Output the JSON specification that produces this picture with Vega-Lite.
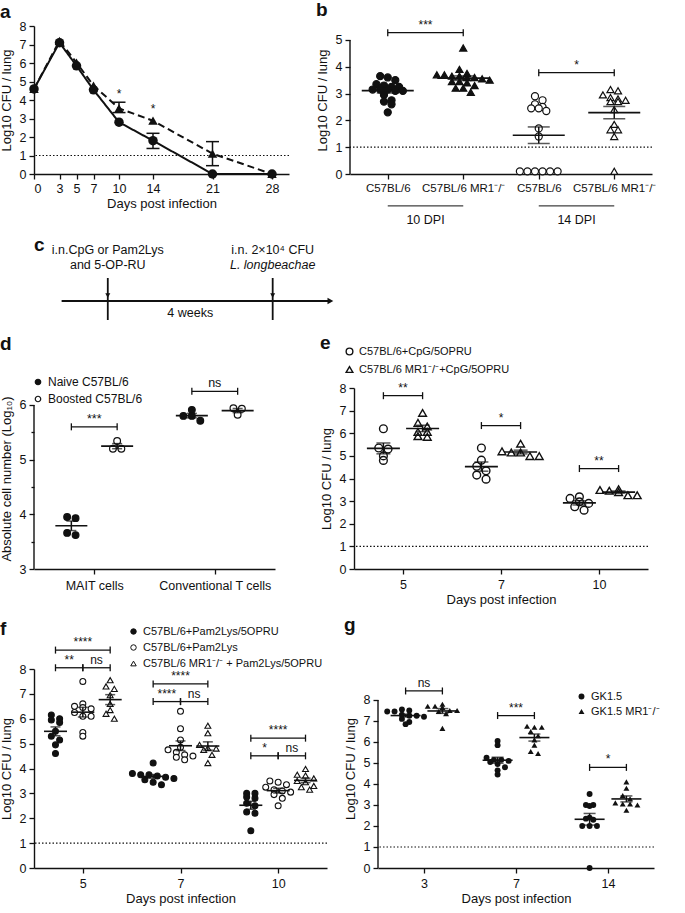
{
"$schema": "https://vega.github.io/schema/vega-lite/v6.json",
"background": "white",
"padding": {"left": 0, "top": 0, "right": 0, "bottom": 0},
"config": {
 "font": "Liberation Sans",
 "view": {"stroke": null},
 "axis": {"grid": false, "domainColor": "#111", "tickColor": "#111", "labelColor": "#111", "titleColor": "#111", "labelFontSize": 12.5, "titleFontSize": 13, "titleFontWeight": "normal", "tickSize": 5, "domainWidth": 1.4, "tickWidth": 1.3, "labelPadding": 3, "labelOverlap": false},
 "axisX": {"titlePadding": 3},
 "axisY": {"titlePadding": 6},
 "legend": {"labelFontSize": 11, "labelColor": "#111", "labelLimit": 300},
 "title": {"fontSize": 19, "fontWeight": "bold", "anchor": "start", "color": "#111"}
},
"datasets": {
 "a": [
  {"day":0,"g":"C57BL/6","v":4.6},{"day":3,"g":"C57BL/6","v":7.1},{"day":5,"g":"C57BL/6","v":5.85},{"day":7,"g":"C57BL/6","v":4.55},{"day":10,"g":"C57BL/6","v":2.8},{"day":14,"g":"C57BL/6","v":1.8,"lo":1.38,"hi":2.2},{"day":21,"g":"C57BL/6","v":0},{"day":28,"g":"C57BL/6","v":0},
  {"day":0,"g":"C57BL/6 MR1⁻/⁻","v":4.6},{"day":3,"g":"C57BL/6 MR1⁻/⁻","v":7.2},{"day":5,"g":"C57BL/6 MR1⁻/⁻","v":6.02},{"day":7,"g":"C57BL/6 MR1⁻/⁻","v":4.78},{"day":10,"g":"C57BL/6 MR1⁻/⁻","v":3.55,"lo":3.32,"hi":3.88},{"day":14,"g":"C57BL/6 MR1⁻/⁻","v":2.88},{"day":21,"g":"C57BL/6 MR1⁻/⁻","v":1.1,"lo":0.45,"hi":1.75},{"day":28,"g":"C57BL/6 MR1⁻/⁻","v":0}
 ],
 "b": [
  {"dpi":10,"grp":"C57BL/6","v":3.65},{"dpi":10,"grp":"C57BL/6","v":3.6},{"dpi":10,"grp":"C57BL/6","v":3.5},{"dpi":10,"grp":"C57BL/6","v":3.35},{"dpi":10,"grp":"C57BL/6","v":3.3},{"dpi":10,"grp":"C57BL/6","v":3.25},{"dpi":10,"grp":"C57BL/6","v":3.25},{"dpi":10,"grp":"C57BL/6","v":3.15},{"dpi":10,"grp":"C57BL/6","v":3.15},{"dpi":10,"grp":"C57BL/6","v":3.15},{"dpi":10,"grp":"C57BL/6","v":3.1},{"dpi":10,"grp":"C57BL/6","v":3.1},{"dpi":10,"grp":"C57BL/6","v":2.95},{"dpi":10,"grp":"C57BL/6","v":2.75},{"dpi":10,"grp":"C57BL/6","v":2.7},{"dpi":10,"grp":"C57BL/6","v":2.6},{"dpi":10,"grp":"C57BL/6","v":2.3},
  {"dpi":10,"grp":"C57BL/6 MR1⁻/⁻","v":4.7},{"dpi":10,"grp":"C57BL/6 MR1⁻/⁻","v":3.9},{"dpi":10,"grp":"C57BL/6 MR1⁻/⁻","v":3.75},{"dpi":10,"grp":"C57BL/6 MR1⁻/⁻","v":3.7},{"dpi":10,"grp":"C57BL/6 MR1⁻/⁻","v":3.7},{"dpi":10,"grp":"C57BL/6 MR1⁻/⁻","v":3.65},{"dpi":10,"grp":"C57BL/6 MR1⁻/⁻","v":3.65},{"dpi":10,"grp":"C57BL/6 MR1⁻/⁻","v":3.6},{"dpi":10,"grp":"C57BL/6 MR1⁻/⁻","v":3.6},{"dpi":10,"grp":"C57BL/6 MR1⁻/⁻","v":3.55},{"dpi":10,"grp":"C57BL/6 MR1⁻/⁻","v":3.5},{"dpi":10,"grp":"C57BL/6 MR1⁻/⁻","v":3.45},{"dpi":10,"grp":"C57BL/6 MR1⁻/⁻","v":3.45},{"dpi":10,"grp":"C57BL/6 MR1⁻/⁻","v":3.4},{"dpi":10,"grp":"C57BL/6 MR1⁻/⁻","v":3.3},{"dpi":10,"grp":"C57BL/6 MR1⁻/⁻","v":3.2},{"dpi":10,"grp":"C57BL/6 MR1⁻/⁻","v":3.2},{"dpi":10,"grp":"C57BL/6 MR1⁻/⁻","v":3.05},
  {"dpi":14,"grp":"C57BL/6","v":2.9},{"dpi":14,"grp":"C57BL/6","v":2.75},{"dpi":14,"grp":"C57BL/6","v":2.6},{"dpi":14,"grp":"C57BL/6","v":2.5},{"dpi":14,"grp":"C57BL/6","v":2.45},{"dpi":14,"grp":"C57BL/6","v":2.45},{"dpi":14,"grp":"C57BL/6","v":2.35},{"dpi":14,"grp":"C57BL/6","v":1.7},{"dpi":14,"grp":"C57BL/6","v":1.4},{"dpi":14,"grp":"C57BL/6","v":0.1},{"dpi":14,"grp":"C57BL/6","v":0.1},{"dpi":14,"grp":"C57BL/6","v":0.1},{"dpi":14,"grp":"C57BL/6","v":0.1},{"dpi":14,"grp":"C57BL/6","v":0.1},{"dpi":14,"grp":"C57BL/6","v":0.1},
  {"dpi":14,"grp":"C57BL/6 MR1⁻/⁻","v":3.15},{"dpi":14,"grp":"C57BL/6 MR1⁻/⁻","v":3.1},{"dpi":14,"grp":"C57BL/6 MR1⁻/⁻","v":2.95},{"dpi":14,"grp":"C57BL/6 MR1⁻/⁻","v":2.85},{"dpi":14,"grp":"C57BL/6 MR1⁻/⁻","v":2.8},{"dpi":14,"grp":"C57BL/6 MR1⁻/⁻","v":2.75},{"dpi":14,"grp":"C57BL/6 MR1⁻/⁻","v":2.7},{"dpi":14,"grp":"C57BL/6 MR1⁻/⁻","v":2.7},{"dpi":14,"grp":"C57BL/6 MR1⁻/⁻","v":2.4},{"dpi":14,"grp":"C57BL/6 MR1⁻/⁻","v":1.85},{"dpi":14,"grp":"C57BL/6 MR1⁻/⁻","v":1.65},{"dpi":14,"grp":"C57BL/6 MR1⁻/⁻","v":1.65},{"dpi":14,"grp":"C57BL/6 MR1⁻/⁻","v":1.4},{"dpi":14,"grp":"C57BL/6 MR1⁻/⁻","v":0.1}
 ],
 "c": [
  {"w":0,"t1":"i.n.CpG or Pam2Lys","t2":"and 5-OP-RU"},
  {"w":4,"t1":"i.n. 2×10⁴ CFU","t2":"L. longbeachae"}
 ],
 "d": [
  {"cell":"MAIT cells","g":"Naive C57BL/6","v":3.95},{"cell":"MAIT cells","g":"Naive C57BL/6","v":3.93},{"cell":"MAIT cells","g":"Naive C57BL/6","v":3.66},{"cell":"MAIT cells","g":"Naive C57BL/6","v":3.62},
  {"cell":"MAIT cells","g":"Boosted C57BL/6","v":5.34},{"cell":"MAIT cells","g":"Boosted C57BL/6","v":5.2},{"cell":"MAIT cells","g":"Boosted C57BL/6","v":5.2},
  {"cell":"Conventional T cells","g":"Naive C57BL/6","v":5.91},{"cell":"Conventional T cells","g":"Naive C57BL/6","v":5.8},{"cell":"Conventional T cells","g":"Naive C57BL/6","v":5.8},{"cell":"Conventional T cells","g":"Naive C57BL/6","v":5.71},
  {"cell":"Conventional T cells","g":"Boosted C57BL/6","v":5.94},{"cell":"Conventional T cells","g":"Boosted C57BL/6","v":5.93},{"cell":"Conventional T cells","g":"Boosted C57BL/6","v":5.82}
 ],
 "e": [
  {"d":5,"g":"C57BL/6+CpG/5OPRU","v":6.2},{"d":5,"g":"C57BL/6+CpG/5OPRU","v":5.35},{"d":5,"g":"C57BL/6+CpG/5OPRU","v":5.3},{"d":5,"g":"C57BL/6+CpG/5OPRU","v":5.0},{"d":5,"g":"C57BL/6+CpG/5OPRU","v":4.8},
  {"d":5,"g":"C57BL/6 MR1⁻/⁻+CpG/5OPRU","v":6.9},{"d":5,"g":"C57BL/6 MR1⁻/⁻+CpG/5OPRU","v":6.46},{"d":5,"g":"C57BL/6 MR1⁻/⁻+CpG/5OPRU","v":6.3},{"d":5,"g":"C57BL/6 MR1⁻/⁻+CpG/5OPRU","v":6.06},{"d":5,"g":"C57BL/6 MR1⁻/⁻+CpG/5OPRU","v":6.06},{"d":5,"g":"C57BL/6 MR1⁻/⁻+CpG/5OPRU","v":5.87},{"d":5,"g":"C57BL/6 MR1⁻/⁻+CpG/5OPRU","v":5.84},
  {"d":7,"g":"C57BL/6+CpG/5OPRU","v":5.35},{"d":7,"g":"C57BL/6+CpG/5OPRU","v":4.81},{"d":7,"g":"C57BL/6+CpG/5OPRU","v":4.54},{"d":7,"g":"C57BL/6+CpG/5OPRU","v":4.34},{"d":7,"g":"C57BL/6+CpG/5OPRU","v":4.15},{"d":7,"g":"C57BL/6+CpG/5OPRU","v":3.97},
  {"d":7,"g":"C57BL/6 MR1⁻/⁻+CpG/5OPRU","v":5.54},{"d":7,"g":"C57BL/6 MR1⁻/⁻+CpG/5OPRU","v":5.2},{"d":7,"g":"C57BL/6 MR1⁻/⁻+CpG/5OPRU","v":5.15},{"d":7,"g":"C57BL/6 MR1⁻/⁻+CpG/5OPRU","v":5.15},{"d":7,"g":"C57BL/6 MR1⁻/⁻+CpG/5OPRU","v":4.99},{"d":7,"g":"C57BL/6 MR1⁻/⁻+CpG/5OPRU","v":4.99},
  {"d":10,"g":"C57BL/6+CpG/5OPRU","v":3.19},{"d":10,"g":"C57BL/6+CpG/5OPRU","v":3.12},{"d":10,"g":"C57BL/6+CpG/5OPRU","v":2.97},{"d":10,"g":"C57BL/6+CpG/5OPRU","v":2.9},{"d":10,"g":"C57BL/6+CpG/5OPRU","v":2.75},{"d":10,"g":"C57BL/6+CpG/5OPRU","v":2.6},
  {"d":10,"g":"C57BL/6 MR1⁻/⁻+CpG/5OPRU","v":3.53},{"d":10,"g":"C57BL/6 MR1⁻/⁻+CpG/5OPRU","v":3.49},{"d":10,"g":"C57BL/6 MR1⁻/⁻+CpG/5OPRU","v":3.46},{"d":10,"g":"C57BL/6 MR1⁻/⁻+CpG/5OPRU","v":3.4},{"d":10,"g":"C57BL/6 MR1⁻/⁻+CpG/5OPRU","v":3.26},{"d":10,"g":"C57BL/6 MR1⁻/⁻+CpG/5OPRU","v":3.26}
 ],
 "f": [
  {"d":5,"g":"C57BL/6+Pam2Lys/5OPRU","v":6.15},{"d":5,"g":"C57BL/6+Pam2Lys/5OPRU","v":6.0},{"d":5,"g":"C57BL/6+Pam2Lys/5OPRU","v":5.95},{"d":5,"g":"C57BL/6+Pam2Lys/5OPRU","v":5.85},{"d":5,"g":"C57BL/6+Pam2Lys/5OPRU","v":5.5},{"d":5,"g":"C57BL/6+Pam2Lys/5OPRU","v":5.3},{"d":5,"g":"C57BL/6+Pam2Lys/5OPRU","v":5.15},{"d":5,"g":"C57BL/6+Pam2Lys/5OPRU","v":4.95},{"d":5,"g":"C57BL/6+Pam2Lys/5OPRU","v":4.6},
  {"d":5,"g":"C57BL/6+Pam2Lys","v":7.5},{"d":5,"g":"C57BL/6+Pam2Lys","v":6.6},{"d":5,"g":"C57BL/6+Pam2Lys","v":6.5},{"d":5,"g":"C57BL/6+Pam2Lys","v":6.45},{"d":5,"g":"C57BL/6+Pam2Lys","v":6.4},{"d":5,"g":"C57BL/6+Pam2Lys","v":6.25},{"d":5,"g":"C57BL/6+Pam2Lys","v":6.1},{"d":5,"g":"C57BL/6+Pam2Lys","v":6.1},{"d":5,"g":"C57BL/6+Pam2Lys","v":5.45},{"d":5,"g":"C57BL/6+Pam2Lys","v":5.3},
  {"d":5,"g":"C57BL/6 MR1⁻/⁻ + Pam2Lys/5OPRU","v":7.55},{"d":5,"g":"C57BL/6 MR1⁻/⁻ + Pam2Lys/5OPRU","v":7.3},{"d":5,"g":"C57BL/6 MR1⁻/⁻ + Pam2Lys/5OPRU","v":7.2},{"d":5,"g":"C57BL/6 MR1⁻/⁻ + Pam2Lys/5OPRU","v":6.95},{"d":5,"g":"C57BL/6 MR1⁻/⁻ + Pam2Lys/5OPRU","v":6.6},{"d":5,"g":"C57BL/6 MR1⁻/⁻ + Pam2Lys/5OPRU","v":6.35},{"d":5,"g":"C57BL/6 MR1⁻/⁻ + Pam2Lys/5OPRU","v":6.2},{"d":5,"g":"C57BL/6 MR1⁻/⁻ + Pam2Lys/5OPRU","v":6.0},
  {"d":7,"g":"C57BL/6+Pam2Lys/5OPRU","v":4.22},{"d":7,"g":"C57BL/6+Pam2Lys/5OPRU","v":3.8},{"d":7,"g":"C57BL/6+Pam2Lys/5OPRU","v":3.75},{"d":7,"g":"C57BL/6+Pam2Lys/5OPRU","v":3.75},{"d":7,"g":"C57BL/6+Pam2Lys/5OPRU","v":3.7},{"d":7,"g":"C57BL/6+Pam2Lys/5OPRU","v":3.65},{"d":7,"g":"C57BL/6+Pam2Lys/5OPRU","v":3.6},{"d":7,"g":"C57BL/6+Pam2Lys/5OPRU","v":3.55},{"d":7,"g":"C57BL/6+Pam2Lys/5OPRU","v":3.45},{"d":7,"g":"C57BL/6+Pam2Lys/5OPRU","v":3.35},
  {"d":7,"g":"C57BL/6+Pam2Lys","v":6.3},{"d":7,"g":"C57BL/6+Pam2Lys","v":5.6},{"d":7,"g":"C57BL/6+Pam2Lys","v":5.15},{"d":7,"g":"C57BL/6+Pam2Lys","v":4.85},{"d":7,"g":"C57BL/6+Pam2Lys","v":4.75},{"d":7,"g":"C57BL/6+Pam2Lys","v":4.65},{"d":7,"g":"C57BL/6+Pam2Lys","v":4.55},{"d":7,"g":"C57BL/6+Pam2Lys","v":4.5},{"d":7,"g":"C57BL/6+Pam2Lys","v":4.45},{"d":7,"g":"C57BL/6+Pam2Lys","v":4.35},
  {"d":7,"g":"C57BL/6 MR1⁻/⁻ + Pam2Lys/5OPRU","v":5.72},{"d":7,"g":"C57BL/6 MR1⁻/⁻ + Pam2Lys/5OPRU","v":5.42},{"d":7,"g":"C57BL/6 MR1⁻/⁻ + Pam2Lys/5OPRU","v":4.95},{"d":7,"g":"C57BL/6 MR1⁻/⁻ + Pam2Lys/5OPRU","v":4.82},{"d":7,"g":"C57BL/6 MR1⁻/⁻ + Pam2Lys/5OPRU","v":4.8},{"d":7,"g":"C57BL/6 MR1⁻/⁻ + Pam2Lys/5OPRU","v":4.75},{"d":7,"g":"C57BL/6 MR1⁻/⁻ + Pam2Lys/5OPRU","v":4.55},{"d":7,"g":"C57BL/6 MR1⁻/⁻ + Pam2Lys/5OPRU","v":4.22},
  {"d":10,"g":"C57BL/6+Pam2Lys/5OPRU","v":3.0},{"d":10,"g":"C57BL/6+Pam2Lys/5OPRU","v":3.0},{"d":10,"g":"C57BL/6+Pam2Lys/5OPRU","v":2.85},{"d":10,"g":"C57BL/6+Pam2Lys/5OPRU","v":2.8},{"d":10,"g":"C57BL/6+Pam2Lys/5OPRU","v":2.6},{"d":10,"g":"C57BL/6+Pam2Lys/5OPRU","v":2.5},{"d":10,"g":"C57BL/6+Pam2Lys/5OPRU","v":2.25},{"d":10,"g":"C57BL/6+Pam2Lys/5OPRU","v":2.2},{"d":10,"g":"C57BL/6+Pam2Lys/5OPRU","v":1.5},
  {"d":10,"g":"C57BL/6+Pam2Lys","v":3.5},{"d":10,"g":"C57BL/6+Pam2Lys","v":3.45},{"d":10,"g":"C57BL/6+Pam2Lys","v":3.35},{"d":10,"g":"C57BL/6+Pam2Lys","v":3.25},{"d":10,"g":"C57BL/6+Pam2Lys","v":3.15},{"d":10,"g":"C57BL/6+Pam2Lys","v":3.1},{"d":10,"g":"C57BL/6+Pam2Lys","v":3.05},{"d":10,"g":"C57BL/6+Pam2Lys","v":2.95},{"d":10,"g":"C57BL/6+Pam2Lys","v":2.8},{"d":10,"g":"C57BL/6+Pam2Lys","v":2.5},
  {"d":10,"g":"C57BL/6 MR1⁻/⁻ + Pam2Lys/5OPRU","v":3.98},{"d":10,"g":"C57BL/6 MR1⁻/⁻ + Pam2Lys/5OPRU","v":3.75},{"d":10,"g":"C57BL/6 MR1⁻/⁻ + Pam2Lys/5OPRU","v":3.72},{"d":10,"g":"C57BL/6 MR1⁻/⁻ + Pam2Lys/5OPRU","v":3.6},{"d":10,"g":"C57BL/6 MR1⁻/⁻ + Pam2Lys/5OPRU","v":3.5},{"d":10,"g":"C57BL/6 MR1⁻/⁻ + Pam2Lys/5OPRU","v":3.45},{"d":10,"g":"C57BL/6 MR1⁻/⁻ + Pam2Lys/5OPRU","v":3.3},{"d":10,"g":"C57BL/6 MR1⁻/⁻ + Pam2Lys/5OPRU","v":3.25},{"d":10,"g":"C57BL/6 MR1⁻/⁻ + Pam2Lys/5OPRU","v":3.15}
 ],
 "g": [
  {"d":3,"g":"GK1.5","v":7.55},{"d":3,"g":"GK1.5","v":7.5},{"d":3,"g":"GK1.5","v":7.45},{"d":3,"g":"GK1.5","v":7.45},{"d":3,"g":"GK1.5","v":7.3},{"d":3,"g":"GK1.5","v":7.25},{"d":3,"g":"GK1.5","v":7.25},{"d":3,"g":"GK1.5","v":7.2},{"d":3,"g":"GK1.5","v":7.1},{"d":3,"g":"GK1.5","v":6.95},{"d":3,"g":"GK1.5","v":6.85},
  {"d":3,"g":"GK1.5 MR1⁻/⁻","v":7.8},{"d":3,"g":"GK1.5 MR1⁻/⁻","v":7.7},{"d":3,"g":"GK1.5 MR1⁻/⁻","v":7.7},{"d":3,"g":"GK1.5 MR1⁻/⁻","v":7.65},{"d":3,"g":"GK1.5 MR1⁻/⁻","v":7.5},{"d":3,"g":"GK1.5 MR1⁻/⁻","v":7.5},{"d":3,"g":"GK1.5 MR1⁻/⁻","v":7.45},{"d":3,"g":"GK1.5 MR1⁻/⁻","v":7.35},{"d":3,"g":"GK1.5 MR1⁻/⁻","v":6.65},
  {"d":7,"g":"GK1.5","v":6.05},{"d":7,"g":"GK1.5","v":5.85},{"d":7,"g":"GK1.5","v":5.25},{"d":7,"g":"GK1.5","v":5.15},{"d":7,"g":"GK1.5","v":5.15},{"d":7,"g":"GK1.5","v":5.1},{"d":7,"g":"GK1.5","v":5.05},{"d":7,"g":"GK1.5","v":4.95},{"d":7,"g":"GK1.5","v":4.8},{"d":7,"g":"GK1.5","v":4.65},{"d":7,"g":"GK1.5","v":4.45},
  {"d":7,"g":"GK1.5 MR1⁻/⁻","v":6.75},{"d":7,"g":"GK1.5 MR1⁻/⁻","v":6.7},{"d":7,"g":"GK1.5 MR1⁻/⁻","v":6.7},{"d":7,"g":"GK1.5 MR1⁻/⁻","v":6.5},{"d":7,"g":"GK1.5 MR1⁻/⁻","v":6.3},{"d":7,"g":"GK1.5 MR1⁻/⁻","v":6.1},{"d":7,"g":"GK1.5 MR1⁻/⁻","v":5.85},{"d":7,"g":"GK1.5 MR1⁻/⁻","v":5.55},{"d":7,"g":"GK1.5 MR1⁻/⁻","v":5.45},
  {"d":14,"g":"GK1.5","v":3.52},{"d":14,"g":"GK1.5","v":3.0},{"d":14,"g":"GK1.5","v":3.0},{"d":14,"g":"GK1.5","v":2.95},{"d":14,"g":"GK1.5","v":2.4},{"d":14,"g":"GK1.5","v":2.35},{"d":14,"g":"GK1.5","v":2.3},{"d":14,"g":"GK1.5","v":2.0},{"d":14,"g":"GK1.5","v":2.0},{"d":14,"g":"GK1.5","v":2.0},{"d":14,"g":"GK1.5","v":0.0},
  {"d":14,"g":"GK1.5 MR1⁻/⁻","v":4.1},{"d":14,"g":"GK1.5 MR1⁻/⁻","v":3.8},{"d":14,"g":"GK1.5 MR1⁻/⁻","v":3.45},{"d":14,"g":"GK1.5 MR1⁻/⁻","v":3.3},{"d":14,"g":"GK1.5 MR1⁻/⁻","v":3.1},{"d":14,"g":"GK1.5 MR1⁻/⁻","v":3.05},{"d":14,"g":"GK1.5 MR1⁻/⁻","v":3.05},{"d":14,"g":"GK1.5 MR1⁻/⁻","v":3.0},{"d":14,"g":"GK1.5 MR1⁻/⁻","v":2.75}
 ]
},
"spacing": 9,
"resolve": {"scale": {"x": "independent", "y": "independent", "shape": "independent", "fill": "independent", "stroke": "independent", "strokeDash": "independent"}, "legend": {"shape": "independent", "fill": "independent", "stroke": "independent", "strokeDash": "independent"}},
"vconcat": [
{
 "spacing": 26,
 "resolve": {"scale": {"x": "independent", "y": "independent", "shape": "independent", "fill": "independent", "stroke": "independent", "strokeDash": "independent"}, "legend": {"shape": "independent", "fill": "independent", "stroke": "independent", "strokeDash": "independent"}},
 "hconcat": [
 {
  "title": {"text": "a", "offset": -2},
  "width": 255, "height": 148,
  "data": {"name": "a"},
  "layer": [
   {"data": {"values": [{}]}, "mark": {"type": "rule", "strokeDash": [1.5, 2], "color": "#111", "strokeWidth": 1.2}, "encoding": {"y": {"datum": 1, "type": "quantitative"}}},
   {"mark": {"type": "line", "color": "#111", "strokeWidth": 2}, "encoding": {
     "x": {"field": "day", "type": "quantitative", "scale": {"domain": [0, 30], "nice": false}, "axis": {"values": [0,3,5,7,10,14,21,28], "tickCount": 100, "format": "d", "title": "Days post infection", "labelOverlap": false}},
     "y": {"field": "v", "type": "quantitative", "scale": {"domain": [0, 8], "nice": false}, "axis": {"values": [0,1,2,3,4,5,6,7,8], "tickCount": 100, "format": "d", "title": "Log10 CFU / lung", "labelOverlap": false}},
     "strokeDash": {"field": "g", "type": "nominal", "scale": {"domain": ["C57BL/6", "C57BL/6 MR1⁻/⁻"], "range": [[1, 0], [7, 4]]}, "legend": null}}},
   {"transform": [{"filter": "isValid(datum.lo)"}], "mark": {"type": "rule", "color": "#111", "strokeWidth": 1.5}, "encoding": {"x": {"field": "day", "type": "quantitative", "title": "Days post infection"}, "y": {"field": "lo", "type": "quantitative", "title": "Log10 CFU / lung"}, "y2": {"field": "hi"}}},
   {"transform": [{"filter": "isValid(datum.lo)"}], "mark": {"type": "tick", "orient": "horizontal", "size": 13, "thickness": 1.5, "color": "#111", "opacity": 1}, "encoding": {"x": {"field": "day", "type": "quantitative", "title": "Days post infection"}, "y": {"field": "lo", "type": "quantitative", "title": "Log10 CFU / lung"}}},
   {"transform": [{"filter": "isValid(datum.lo)"}], "mark": {"type": "tick", "orient": "horizontal", "size": 13, "thickness": 1.5, "color": "#111", "opacity": 1}, "encoding": {"x": {"field": "day", "type": "quantitative", "title": "Days post infection"}, "y": {"field": "hi", "type": "quantitative", "title": "Log10 CFU / lung"}}},
   {"mark": {"type": "point", "filled": true, "size": 90, "color": "#111", "opacity": 1}, "encoding": {
     "x": {"field": "day", "type": "quantitative", "title": "Days post infection"},
     "y": {"field": "v", "type": "quantitative", "title": "Log10 CFU / lung"},
     "shape": {"field": "g", "type": "nominal", "scale": {"domain": ["C57BL/6", "C57BL/6 MR1⁻/⁻"], "range": ["circle", "triangle-up"]}, "legend": {"title": null, "orient": "none", "legendX": 134, "legendY": -9, "labelFontSize": 12, "symbolSize": 90, "symbolFillColor": "#111", "symbolStrokeColor": "#111", "rowPadding": 6}}}},
   {"data": {"values": [{"day": 10, "v": 4.35, "s": "*"}, {"day": 14, "v": 3.5, "s": "*"}]}, "mark": {"type": "text", "fontSize": 12, "color": "#111"}, "encoding": {"x": {"field": "day", "type": "quantitative", "title": "Days post infection"}, "y": {"field": "v", "type": "quantitative", "title": "Log10 CFU / lung"}, "text": {"field": "s"}}}
  ]
 },
 {
  "title": {"text": "b", "offset": -1},
  "width": 302, "height": 148,
  "data": {"name": "b"},
  "layer": [
   {"data": {"values": [{}]}, "mark": {"type": "rule", "color": "#111", "strokeWidth": 1.4}, "encoding": {"x": {"datum": -0.5, "type": "quantitative"}, "y": {"datum": 0, "type": "quantitative"}, "y2": {"datum": 5}}},
   {"data": {"values": [{}]}, "mark": {"type": "rule", "strokeDash": [1.5, 2], "color": "#111", "strokeWidth": 1.2}, "encoding": {"y": {"datum": 1, "type": "quantitative"}}},
   {
    "transform": [
     {"calculate": "(datum.dpi == 14 ? 2 : 0) + (datum.grp == 'C57BL/6' ? 0 : 1)", "as": "i"},
     {"calculate": "floor(datum.v / 0.25)", "as": "bin"},
     {"window": [{"op": "row_number", "as": "r"}], "groupby": ["i", "bin"]},
     {"joinaggregate": [{"op": "count", "as": "n"}], "groupby": ["i", "bin"]},
     {"calculate": "datum.i + (datum.r - (datum.n + 1) / 2) * 0.1", "as": "px"}
    ],
    "layer": [
     {"mark": {"type": "point", "filled": true, "size": 50, "stroke": "#111", "strokeWidth": 1.2, "opacity": 1}, "encoding": {
       "x": {"field": "px", "type": "quantitative", "scale": {"domain": [-0.5, 3.5], "nice": false, "zero": false}, "axis": {"values": [0, 1, 2, 3], "tickCount": 100, "labelExpr": "datum.value % 2 == 0 ? 'C57BL/6' : 'C57BL/6 MR1⁻/⁻'", "title": null, "labelFontSize": 11.5, "labelOverlap": false}},
       "y": {"field": "v", "type": "quantitative", "scale": {"domain": [0, 5.52], "nice": false}, "axis": {"values": [0, 1, 2, 3, 4, 5], "tickCount": 100, "format": "d", "domain": false, "title": "Log10 CFU / lung", "labelOverlap": false}},
       "shape": {"field": "grp", "type": "nominal", "scale": {"domain": ["C57BL/6", "C57BL/6 MR1⁻/⁻"], "range": ["circle", "triangle-up"]}, "legend": null},
       "fill": {"field": "dpi", "type": "nominal", "scale": {"domain": [10, 14], "range": ["#111", "white"]}, "legend": null}}},
     {"mark": {"type": "errorbar", "extent": "stderr", "orient": "vertical", "ticks": {"size": 22}, "color": "#111", "thickness": 1.5}, "encoding": {"x": {"field": "i", "type": "quantitative", "title": null}, "y": {"field": "v", "type": "quantitative", "title": "Log10 CFU / lung"}}},
     {"mark": {"type": "tick", "orient": "horizontal", "size": 52, "thickness": 1.6, "color": "#111", "opacity": 1}, "encoding": {"x": {"field": "i", "type": "quantitative", "title": null}, "y": {"aggregate": "mean", "field": "v", "type": "quantitative", "title": "Log10 CFU / lung"}}}
    ]
   },
   {
    "transform": [
     {"calculate": "(datum.dpi == 14 ? 2 : 0) + (datum.grp == 'C57BL/6' ? 0 : 1)", "as": "i"},
     {"aggregate": [{"op": "min", "field": "i", "as": "x1"}, {"op": "max", "field": "i", "as": "x2"}], "groupby": ["dpi"]},
     {"calculate": "(datum.x1 + datum.x2) / 2", "as": "xm"},
     {"calculate": "datum.dpi + ' DPI'", "as": "lab"}
    ],
    "layer": [
     {"mark": {"type": "rule", "color": "#111", "strokeWidth": 1}, "encoding": {"x": {"field": "x1", "type": "quantitative", "title": null}, "x2": {"field": "x2"}, "y": {"datum": -1.19, "type": "quantitative"}}},
     {"mark": {"type": "text", "fontSize": 12.5, "baseline": "middle", "color": "#111"}, "encoding": {"x": {"field": "xm", "type": "quantitative", "title": null}, "y": {"datum": -1.7, "type": "quantitative"}, "text": {"field": "lab"}}}
    ]
   },
   {
    "data": {"values": [{"a": 0, "b": 1, "y": 5.27, "s": "***"}, {"a": 2, "b": 3, "y": 3.78, "s": "*"}]},
    "transform": [{"calculate": "(datum.a + datum.b) / 2", "as": "xm"}],
    "layer": [
     {"mark": {"type": "rule", "color": "#111", "strokeWidth": 1.3}, "encoding": {"x": {"field": "a", "type": "quantitative", "title": null}, "x2": {"field": "b"}, "y": {"field": "y", "type": "quantitative", "title": "Log10 CFU / lung"}}},
     {"mark": {"type": "tick", "orient": "vertical", "size": 7, "thickness": 1.3, "color": "#111", "opacity": 1}, "encoding": {"x": {"field": "a", "type": "quantitative", "title": null}, "y": {"field": "y", "type": "quantitative", "title": "Log10 CFU / lung"}}},
     {"mark": {"type": "tick", "orient": "vertical", "size": 7, "thickness": 1.3, "color": "#111", "opacity": 1}, "encoding": {"x": {"field": "b", "type": "quantitative", "title": null}, "y": {"field": "y", "type": "quantitative", "title": "Log10 CFU / lung"}}},
     {"mark": {"type": "text", "fontSize": 12, "baseline": "bottom", "dy": -1, "color": "#111"}, "encoding": {"x": {"field": "xm", "type": "quantitative", "title": null}, "y": {"field": "y", "type": "quantitative", "title": "Log10 CFU / lung"}, "text": {"field": "s"}}}
    ]
   }
  ]
 }
 ]
},
{
 "title": {"text": "c", "offset": -14},
 "width": 310, "height": 84,
 "data": {"name": "c"},
 "layer": [
  {"data": {"values": [{}]}, "mark": {"type": "rule", "color": "#111", "strokeWidth": 1.8}, "encoding": {
    "x": {"datum": -1.12, "type": "quantitative", "scale": {"domain": [-1.79, 5.73], "nice": false, "zero": false}, "axis": null},
    "x2": {"datum": 5.35},
    "y": {"datum": 2.4, "type": "quantitative", "scale": {"domain": [0, 8.4], "nice": false}, "axis": null}}},
  {"data": {"values": [{}]}, "mark": {"type": "point", "shape": "triangle-right", "filled": true, "size": 45, "color": "#111", "opacity": 1}, "encoding": {"x": {"datum": 5.4, "type": "quantitative"}, "y": {"datum": 2.4, "type": "quantitative"}}},
  {"mark": {"type": "rule", "color": "#111", "strokeWidth": 1.8}, "encoding": {"x": {"field": "w", "type": "quantitative"}, "y": {"datum": 0.5, "type": "quantitative"}, "y2": {"datum": 4.7}}},
  {"mark": {"type": "point", "shape": "triangle-down", "filled": true, "size": 25, "color": "#111", "opacity": 1}, "encoding": {"x": {"field": "w", "type": "quantitative"}, "y": {"datum": 2.95, "type": "quantitative"}}},
  {"mark": {"type": "text", "fontSize": 12.5, "color": "#111"}, "encoding": {"x": {"field": "w", "type": "quantitative"}, "y": {"datum": 7.5, "type": "quantitative"}, "text": {"field": "t1"}}},
  {"transform": [{"filter": "datum.w == 0"}], "mark": {"type": "text", "fontSize": 12.5, "color": "#111"}, "encoding": {"x": {"field": "w", "type": "quantitative"}, "y": {"datum": 6.05, "type": "quantitative"}, "text": {"field": "t2"}}},
  {"transform": [{"filter": "datum.w != 0"}], "mark": {"type": "text", "fontSize": 12.5, "fontStyle": "italic", "color": "#111"}, "encoding": {"x": {"field": "w", "type": "quantitative"}, "y": {"datum": 6.05, "type": "quantitative"}, "text": {"field": "t2"}}},
  {"transform": [{"aggregate": [{"op": "min", "field": "w", "as": "w0"}, {"op": "max", "field": "w", "as": "w1"}]}, {"calculate": "(datum.w0 + datum.w1) / 2", "as": "wm"}, {"calculate": "(datum.w1 - datum.w0) + ' weeks'", "as": "lab"}],
   "mark": {"type": "text", "fontSize": 12.5, "color": "#111"}, "encoding": {"x": {"field": "wm", "type": "quantitative"}, "y": {"datum": 1.2, "type": "quantitative"}, "text": {"field": "lab"}}}
 ]
},
{
 "spacing": 45,
 "resolve": {"scale": {"x": "independent", "y": "independent", "shape": "independent", "fill": "independent", "stroke": "independent", "strokeDash": "independent"}, "legend": {"shape": "independent", "fill": "independent", "stroke": "independent", "strokeDash": "independent"}},
 "hconcat": [
 {
  "title": {"text": "d", "offset": 22},
  "width": 241, "height": 181,
  "data": {"name": "d"},
  "layer": [
   {"data": {"values": [{}]}, "mark": {"type": "rule", "color": "#111", "strokeWidth": 1.4}, "encoding": {"x": {"datum": -0.5, "type": "quantitative"}, "y": {"datum": 3, "type": "quantitative"}, "y2": {"datum": 6}}},
   {
    "transform": [
     {"calculate": "indexof(['MAIT cells', 'Conventional T cells'], datum.cell) + (datum.g == 'Naive C57BL/6' ? -0.19 : 0.19)", "as": "i"},
     {"calculate": "floor(datum.v / 0.15)", "as": "bin"},
     {"window": [{"op": "row_number", "as": "r"}], "groupby": ["i", "bin"]},
     {"joinaggregate": [{"op": "count", "as": "n"}], "groupby": ["i", "bin"]},
     {"calculate": "datum.i + (datum.r - (datum.n + 1) / 2) * 0.07", "as": "px"}
    ],
    "layer": [
     {"mark": {"type": "point", "filled": true, "size": 45, "stroke": "#111", "strokeWidth": 1.2, "opacity": 1}, "encoding": {
       "x": {"field": "px", "type": "quantitative", "scale": {"domain": [-0.5, 1.5], "nice": false, "zero": false}, "axis": {"values": [0, 1], "tickCount": 100, "labelExpr": "datum.value == 0 ? 'MAIT cells' : 'Conventional T cells'", "title": null, "labelPadding": 5, "labelOverlap": false}},
       "y": {"field": "v", "type": "quantitative", "scale": {"domain": [3, 6.31], "nice": false, "zero": false}, "axis": {"values": [3, 3.5, 4, 4.5, 5, 5.5, 6], "tickCount": 100, "labelExpr": "datum.value % 1 ? '' : format(datum.value, 'd')", "tickSize": {"condition": {"test": "datum.value % 1 != 0", "value": 3}, "value": 5}, "domain": false, "title": "Absolute cell number (Log₁₀)", "labelOverlap": false}},
       "fill": {"field": "g", "type": "nominal", "scale": {"domain": ["Naive C57BL/6", "Boosted C57BL/6"], "range": ["#111", "white"]}, "legend": {"title": null, "orient": "none", "legendX": -2, "legendY": -12, "labelFontSize": 12, "symbolType": "circle", "symbolSize": 30, "symbolStrokeColor": "#111", "symbolStrokeWidth": 1.2, "rowPadding": 5}}}},
     {"mark": {"type": "errorbar", "extent": "stderr", "orient": "vertical", "ticks": {"size": 10}, "color": "#111", "thickness": 1.5}, "encoding": {"x": {"field": "i", "type": "quantitative", "title": null}, "y": {"field": "v", "type": "quantitative", "title": "Absolute cell number (Log₁₀)"}}},
     {"mark": {"type": "tick", "orient": "horizontal", "size": 32, "thickness": 1.6, "color": "#111", "opacity": 1}, "encoding": {"x": {"field": "i", "type": "quantitative", "title": null}, "y": {"aggregate": "mean", "field": "v", "type": "quantitative", "title": "Absolute cell number (Log₁₀)"}}}
    ]
   },
   {
    "data": {"values": [{"c": 0, "y": 5.6, "s": "***"}, {"c": 1, "y": 6.25, "s": "ns"}]},
    "transform": [{"calculate": "datum.c - 0.19", "as": "x1"}, {"calculate": "datum.c + 0.19", "as": "x2"}],
    "layer": [
     {"mark": {"type": "rule", "color": "#111", "strokeWidth": 1.3}, "encoding": {"x": {"field": "x1", "type": "quantitative", "title": null}, "x2": {"field": "x2"}, "y": {"field": "y", "type": "quantitative", "title": "Absolute cell number (Log₁₀)"}}},
     {"mark": {"type": "tick", "orient": "vertical", "size": 7, "thickness": 1.3, "color": "#111", "opacity": 1}, "encoding": {"x": {"field": "x1", "type": "quantitative", "title": null}, "y": {"field": "y", "type": "quantitative", "title": "Absolute cell number (Log₁₀)"}}},
     {"mark": {"type": "tick", "orient": "vertical", "size": 7, "thickness": 1.3, "color": "#111", "opacity": 1}, "encoding": {"x": {"field": "x2", "type": "quantitative", "title": null}, "y": {"field": "y", "type": "quantitative", "title": "Absolute cell number (Log₁₀)"}}},
     {"mark": {"type": "text", "fontSize": 12.5, "baseline": "bottom", "dy": -1, "color": "#111"}, "encoding": {"x": {"field": "c", "type": "quantitative", "title": null}, "y": {"field": "y", "type": "quantitative", "title": "Absolute cell number (Log₁₀)"}, "text": {"field": "s"}}}
    ]
   }
  ]
 },
 {
  "title": {"text": "e", "offset": -7},
  "width": 294, "height": 181,
  "data": {"name": "e"},
  "layer": [
   {"data": {"values": [{}]}, "mark": {"type": "rule", "strokeDash": [1.5, 2], "color": "#111", "strokeWidth": 1.2}, "encoding": {"y": {"datum": 1, "type": "quantitative"}}},
   {
    "transform": [
     {"calculate": "indexof([5, 7, 10], datum.d) + (datum.g == 'C57BL/6+CpG/5OPRU' ? -0.2 : 0.2)", "as": "i"},
     {"calculate": "floor(datum.v / 0.35)", "as": "bin"},
     {"window": [{"op": "row_number", "as": "r"}], "groupby": ["i", "bin"]},
     {"joinaggregate": [{"op": "count", "as": "n"}], "groupby": ["i", "bin"]},
     {"calculate": "datum.i + (datum.r - (datum.n + 1) / 2) * 0.095", "as": "px"}
    ],
    "layer": [
     {"mark": {"type": "point", "filled": false, "size": 60, "color": "#111", "strokeWidth": 1.4, "opacity": 1}, "encoding": {
       "x": {"field": "px", "type": "quantitative", "scale": {"domain": [-0.5, 2.5], "nice": false, "zero": false}, "axis": {"values": [0, 1, 2], "tickCount": 100, "labelExpr": "['5', '7', '10'][datum.value]", "title": "Days post infection", "labelPadding": 4, "labelOverlap": false}},
       "y": {"field": "v", "type": "quantitative", "scale": {"domain": [0, 8], "nice": false}, "axis": {"values": [0,1,2,3,4,5,6,7,8], "tickCount": 100, "format": "d", "title": "Log10 CFU / lung", "labelOverlap": false}},
       "shape": {"field": "g", "type": "nominal", "scale": {"domain": ["C57BL/6+CpG/5OPRU", "C57BL/6 MR1⁻/⁻+CpG/5OPRU"], "range": ["circle", "triangle-up"]}, "legend": {"title": null, "orient": "none", "legendX": -10, "legendY": -42, "labelFontSize": 11, "symbolSize": 45, "symbolStrokeColor": "#111", "symbolStrokeWidth": 1.4, "rowPadding": 5}}}},
     {"mark": {"type": "errorbar", "extent": "stderr", "orient": "vertical", "ticks": {"size": 14}, "color": "#111", "thickness": 1.5}, "encoding": {"x": {"field": "i", "type": "quantitative", "title": "Days post infection"}, "y": {"field": "v", "type": "quantitative", "title": "Log10 CFU / lung"}}},
     {"mark": {"type": "tick", "orient": "horizontal", "size": 33, "thickness": 1.6, "color": "#111", "opacity": 1}, "encoding": {"x": {"field": "i", "type": "quantitative", "title": "Days post infection"}, "y": {"aggregate": "mean", "field": "v", "type": "quantitative", "title": "Log10 CFU / lung"}}}
    ]
   },
   {
    "data": {"values": [{"d": 0, "y": 7.66, "s": "**"}, {"d": 1, "y": 6.34, "s": "*"}, {"d": 2, "y": 4.44, "s": "**"}]},
    "transform": [{"calculate": "datum.d - 0.2", "as": "x1"}, {"calculate": "datum.d + 0.2", "as": "x2"}],
    "layer": [
     {"mark": {"type": "rule", "color": "#111", "strokeWidth": 1.3}, "encoding": {"x": {"field": "x1", "type": "quantitative", "title": "Days post infection"}, "x2": {"field": "x2"}, "y": {"field": "y", "type": "quantitative", "title": "Log10 CFU / lung"}}},
     {"mark": {"type": "tick", "orient": "vertical", "size": 7, "thickness": 1.3, "color": "#111", "opacity": 1}, "encoding": {"x": {"field": "x1", "type": "quantitative", "title": "Days post infection"}, "y": {"field": "y", "type": "quantitative", "title": "Log10 CFU / lung"}}},
     {"mark": {"type": "tick", "orient": "vertical", "size": 7, "thickness": 1.3, "color": "#111", "opacity": 1}, "encoding": {"x": {"field": "x2", "type": "quantitative", "title": "Days post infection"}, "y": {"field": "y", "type": "quantitative", "title": "Log10 CFU / lung"}}},
     {"mark": {"type": "text", "fontSize": 12, "baseline": "bottom", "dy": -1, "color": "#111"}, "encoding": {"x": {"field": "d", "type": "quantitative", "title": "Days post infection"}, "y": {"field": "y", "type": "quantitative", "title": "Log10 CFU / lung"}, "text": {"field": "s"}}}
    ]
   }
  ]
 }
 ]
},
{
 "spacing": 16,
 "resolve": {"scale": {"x": "independent", "y": "independent", "shape": "independent", "fill": "independent", "stroke": "independent", "strokeDash": "independent"}, "legend": {"shape": "independent", "fill": "independent", "stroke": "independent", "strokeDash": "independent"}},
 "hconcat": [
 {
  "title": {"text": "f", "offset": -13},
  "width": 293, "height": 199,
  "data": {"name": "f"},
  "layer": [
   {"data": {"values": [{}]}, "mark": {"type": "rule", "strokeDash": [1.5, 2], "color": "#111", "strokeWidth": 1.2}, "encoding": {"y": {"datum": 1, "type": "quantitative"}}},
   {
    "transform": [
     {"calculate": "indexof([5, 7, 10], datum.d) + (indexof(['C57BL/6+Pam2Lys/5OPRU', 'C57BL/6+Pam2Lys', 'C57BL/6 MR1⁻/⁻ + Pam2Lys/5OPRU'], datum.g) - 1) * 0.28", "as": "i"},
     {"calculate": "floor(datum.v / 0.3)", "as": "bin"},
     {"window": [{"op": "row_number", "as": "r"}], "groupby": ["i", "bin"]},
     {"joinaggregate": [{"op": "count", "as": "n"}], "groupby": ["i", "bin"]},
     {"calculate": "datum.i + (datum.r - (datum.n + 1) / 2) * 0.085", "as": "px"}
    ],
    "layer": [
     {"mark": {"type": "point", "filled": false, "size": 35, "strokeWidth": 1.1, "opacity": 1}, "encoding": {
       "x": {"field": "px", "type": "quantitative", "scale": {"domain": [-0.5, 2.5], "nice": false, "zero": false}, "axis": {"values": [0, 1, 2], "tickCount": 100, "labelExpr": "['5', '7', '10'][datum.value]", "title": "Days post infection", "labelPadding": 4, "titlePadding": 3, "labelOverlap": false}},
       "y": {"field": "v", "type": "quantitative", "scale": {"domain": [0, 8], "nice": false}, "axis": {"values": [0,1,2,3,4,5,6,7,8], "tickCount": 100, "format": "d", "title": "Log10 CFU / lung", "labelOverlap": false}},
       "shape": {"field": "g", "type": "nominal", "scale": {"domain": ["C57BL/6+Pam2Lys/5OPRU", "C57BL/6+Pam2Lys", "C57BL/6 MR1⁻/⁻ + Pam2Lys/5OPRU"], "range": ["circle", "circle", "triangle-up"]}, "legend": {"title": null, "orient": "none", "legendX": 94, "legendY": -43, "labelFontSize": 11, "symbolSize": 30, "symbolStrokeWidth": 1, "rowPadding": 4}},
       "fill": {"field": "g", "type": "nominal", "scale": {"domain": ["C57BL/6+Pam2Lys/5OPRU", "C57BL/6+Pam2Lys", "C57BL/6 MR1⁻/⁻ + Pam2Lys/5OPRU"], "range": ["#111", "white", "white"]}, "legend": {"title": null, "orient": "none", "legendX": 94, "legendY": -43, "labelFontSize": 11, "symbolSize": 30, "symbolStrokeWidth": 1, "rowPadding": 4}},
       "stroke": {"field": "g", "type": "nominal", "scale": {"domain": ["C57BL/6+Pam2Lys/5OPRU", "C57BL/6+Pam2Lys", "C57BL/6 MR1⁻/⁻ + Pam2Lys/5OPRU"], "range": ["#111", "#111", "#111"]}, "legend": {"title": null, "orient": "none", "legendX": 94, "legendY": -43, "labelFontSize": 11, "symbolSize": 30, "symbolStrokeWidth": 1, "rowPadding": 4}}}},
     {"mark": {"type": "errorbar", "extent": "stderr", "orient": "vertical", "ticks": {"size": 10}, "color": "#111", "thickness": 1.5}, "encoding": {"x": {"field": "i", "type": "quantitative", "title": "Days post infection"}, "y": {"field": "v", "type": "quantitative", "title": "Log10 CFU / lung"}}},
     {"mark": {"type": "tick", "orient": "horizontal", "size": 23, "thickness": 1.6, "color": "#111", "opacity": 1}, "encoding": {"x": {"field": "i", "type": "quantitative", "title": "Days post infection"}, "y": {"aggregate": "mean", "field": "v", "type": "quantitative", "title": "Log10 CFU / lung"}}}
    ]
   },
   {
    "data": {"values": [
      {"d": 0, "a": 0, "b": 2, "y": 8.76, "s": "****"}, {"d": 0, "a": 0, "b": 1, "y": 8.05, "s": "**"}, {"d": 0, "a": 1, "b": 2, "y": 8.05, "s": "ns"},
      {"d": 1, "a": 0, "b": 2, "y": 7.4, "s": "****"}, {"d": 1, "a": 0, "b": 1, "y": 6.69, "s": "****"}, {"d": 1, "a": 1, "b": 2, "y": 6.69, "s": "ns"},
      {"d": 2, "a": 0, "b": 2, "y": 5.22, "s": "****"}, {"d": 2, "a": 0, "b": 1, "y": 4.51, "s": "*"}, {"d": 2, "a": 1, "b": 2, "y": 4.51, "s": "ns"}]},
    "transform": [{"calculate": "datum.d + (datum.a - 1) * 0.28", "as": "x1"}, {"calculate": "datum.d + (datum.b - 1) * 0.28", "as": "x2"}, {"calculate": "(datum.x1 + datum.x2) / 2", "as": "xm"}],
    "layer": [
     {"mark": {"type": "rule", "color": "#111", "strokeWidth": 1.3}, "encoding": {"x": {"field": "x1", "type": "quantitative", "title": "Days post infection"}, "x2": {"field": "x2"}, "y": {"field": "y", "type": "quantitative", "title": "Log10 CFU / lung"}}},
     {"mark": {"type": "tick", "orient": "vertical", "size": 7, "thickness": 1.3, "color": "#111", "opacity": 1}, "encoding": {"x": {"field": "x1", "type": "quantitative", "title": "Days post infection"}, "y": {"field": "y", "type": "quantitative", "title": "Log10 CFU / lung"}}},
     {"mark": {"type": "tick", "orient": "vertical", "size": 7, "thickness": 1.3, "color": "#111", "opacity": 1}, "encoding": {"x": {"field": "x2", "type": "quantitative", "title": "Days post infection"}, "y": {"field": "y", "type": "quantitative", "title": "Log10 CFU / lung"}}},
     {"mark": {"type": "text", "fontSize": 12, "baseline": "bottom", "dy": -1, "color": "#111"}, "encoding": {"x": {"field": "xm", "type": "quantitative", "title": "Days post infection"}, "y": {"field": "y", "type": "quantitative", "title": "Log10 CFU / lung"}, "text": {"field": "s"}}}
    ]
   }
  ]
 },
 {
  "title": {"text": "g", "offset": 34},
  "width": 276, "height": 199,
  "data": {"name": "g"},
  "layer": [
   {"data": {"values": [{}]}, "mark": {"type": "rule", "color": "#111", "strokeWidth": 1.4}, "encoding": {"x": {"datum": -0.5, "type": "quantitative"}, "y": {"datum": 0, "type": "quantitative"}, "y2": {"datum": 8}}},
   {"data": {"values": [{}]}, "mark": {"type": "rule", "strokeDash": [1.5, 2], "color": "#111", "strokeWidth": 1.2}, "encoding": {"y": {"datum": 1, "type": "quantitative"}}},
   {
    "transform": [
     {"calculate": "indexof([3, 7, 14], datum.d) + (datum.g == 'GK1.5' ? -0.2 : 0.2)", "as": "i"},
     {"calculate": "floor(datum.v / 0.3)", "as": "bin"},
     {"window": [{"op": "row_number", "as": "r"}], "groupby": ["i", "bin"]},
     {"joinaggregate": [{"op": "count", "as": "n"}], "groupby": ["i", "bin"]},
     {"calculate": "datum.i + (datum.r - (datum.n + 1) / 2) * 0.08", "as": "px"}
    ],
    "layer": [
     {"mark": {"type": "point", "filled": true, "size": 35, "color": "#111", "opacity": 1}, "encoding": {
       "x": {"field": "px", "type": "quantitative", "scale": {"domain": [-0.5, 2.5], "nice": false, "zero": false}, "axis": {"values": [0, 1, 2], "tickCount": 100, "labelExpr": "['3', '7', '14'][datum.value]", "title": "Days post infection", "labelPadding": 4, "titlePadding": 3, "labelOverlap": false}},
       "y": {"field": "v", "type": "quantitative", "scale": {"domain": [0, 9.476], "nice": false}, "axis": {"values": [0,1,2,3,4,5,6,7,8], "tickCount": 100, "format": "d", "domain": false, "title": "Log10 CFU / lung", "labelOverlap": false}},
       "shape": {"field": "g", "type": "nominal", "scale": {"domain": ["GK1.5", "GK1.5 MR1⁻/⁻"], "range": ["circle", "triangle-up"]}, "legend": {"title": null, "orient": "none", "legendX": 198, "legendY": 22, "labelFontSize": 11, "symbolSize": 35, "symbolFillColor": "#111", "symbolStrokeColor": "#111", "rowPadding": 2}}}},
     {"mark": {"type": "errorbar", "extent": "stderr", "orient": "vertical", "ticks": {"size": 12}, "color": "#111", "thickness": 1.5}, "encoding": {"x": {"field": "i", "type": "quantitative", "title": "Days post infection"}, "y": {"field": "v", "type": "quantitative", "title": "Log10 CFU / lung"}}},
     {"mark": {"type": "tick", "orient": "horizontal", "size": 30, "thickness": 1.6, "color": "#111", "opacity": 1}, "encoding": {"x": {"field": "i", "type": "quantitative", "title": "Days post infection"}, "y": {"aggregate": "mean", "field": "v", "type": "quantitative", "title": "Log10 CFU / lung"}}}
    ]
   },
   {
    "data": {"values": [{"d": 0, "y": 8.43, "s": "ns"}, {"d": 1, "y": 7.26, "s": "***"}, {"d": 2, "y": 4.79, "s": "*"}]},
    "transform": [{"calculate": "datum.d - 0.2", "as": "x1"}, {"calculate": "datum.d + 0.2", "as": "x2"}],
    "layer": [
     {"mark": {"type": "rule", "color": "#111", "strokeWidth": 1.3}, "encoding": {"x": {"field": "x1", "type": "quantitative", "title": "Days post infection"}, "x2": {"field": "x2"}, "y": {"field": "y", "type": "quantitative", "title": "Log10 CFU / lung"}}},
     {"mark": {"type": "tick", "orient": "vertical", "size": 7, "thickness": 1.3, "color": "#111", "opacity": 1}, "encoding": {"x": {"field": "x1", "type": "quantitative", "title": "Days post infection"}, "y": {"field": "y", "type": "quantitative", "title": "Log10 CFU / lung"}}},
     {"mark": {"type": "tick", "orient": "vertical", "size": 7, "thickness": 1.3, "color": "#111", "opacity": 1}, "encoding": {"x": {"field": "x2", "type": "quantitative", "title": "Days post infection"}, "y": {"field": "y", "type": "quantitative", "title": "Log10 CFU / lung"}}},
     {"mark": {"type": "text", "fontSize": 12, "baseline": "bottom", "dy": -1, "color": "#111"}, "encoding": {"x": {"field": "d", "type": "quantitative", "title": "Days post infection"}, "y": {"field": "y", "type": "quantitative", "title": "Log10 CFU / lung"}, "text": {"field": "s"}}}
    ]
   }
  ]
 }
 ]
}
]
}
